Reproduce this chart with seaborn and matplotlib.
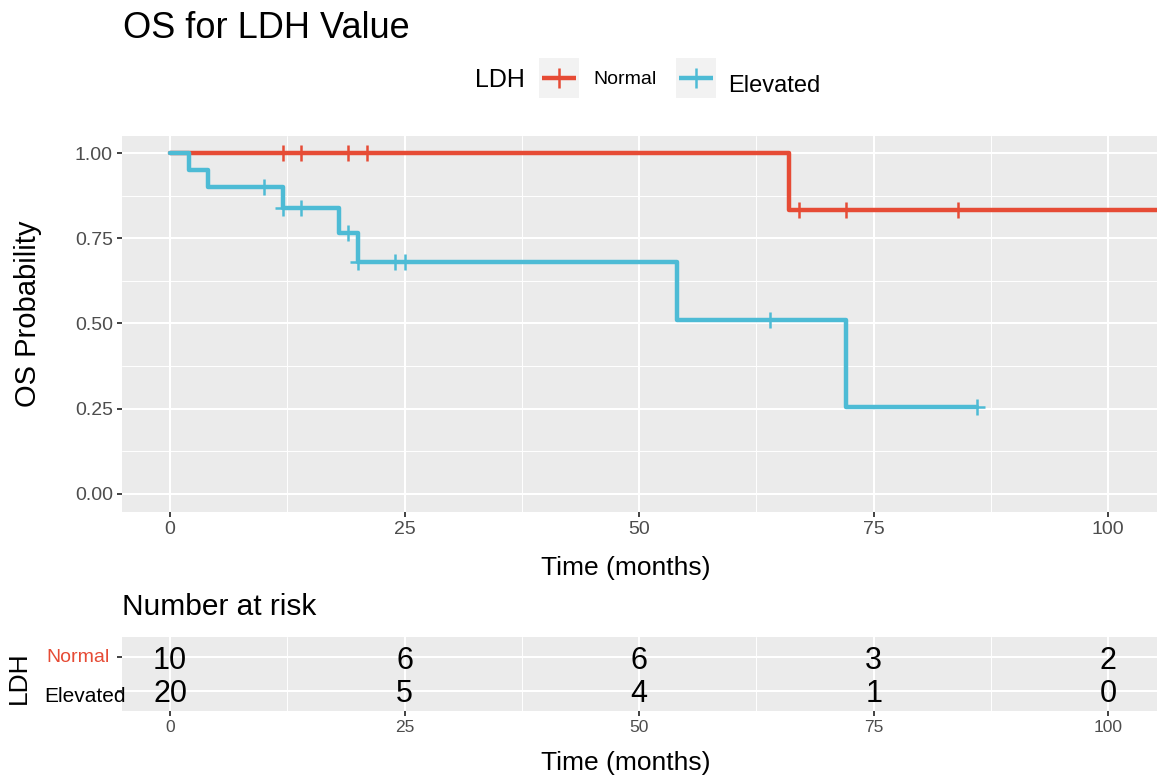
import matplotlib
matplotlib.use("Agg")
import matplotlib.pyplot as plt
import seaborn as sns
import numpy as np
import pandas as pd

# ---------------- data ----------------
groups = ["Normal", "Elevated"]
colors = ["#E64B35", "#4DBBD5"]

normal_time = [0, 66, 108]
normal_surv = [1.0, 0.833, 0.833]
normal_cens_time = [12, 14, 19, 21, 67, 72, 84]
normal_cens_surv = [1.0, 1.0, 1.0, 1.0, 0.833, 0.833, 0.833]

elevated_time = [0, 2, 4, 12, 18, 20, 54, 72, 86]
elevated_surv = [1.0, 0.95, 0.90, 0.84, 0.765, 0.68, 0.51, 0.255, 0.255]
elevated_cens_time = [10, 12, 14, 19, 20, 24, 25, 64, 86]
elevated_cens_surv = [0.90, 0.84, 0.84, 0.765, 0.68, 0.68, 0.68, 0.51, 0.255]

risk_times = [0, 25, 50, 75, 100]
risk_normal = [10, 6, 6, 3, 2]
risk_elevated = [20, 5, 4, 1, 0]

x_ticks = [0, 25, 50, 75, 100]
y_ticks = [0.0, 0.25, 0.50, 0.75, 1.00]
y_tick_labels = ["0.00", "0.25", "0.50", "0.75", "1.00"]

# ---------------- style ----------------
sns.set_theme(style="darkgrid")
plt.rcParams["font.family"] = ["Liberation Sans", "DejaVu Sans"]
plt.rcParams["text.color"] = "black"

W, H = 1161, 780
fig = plt.figure(figsize=(W / 100, H / 100), dpi=100)
fig.patch.set_facecolor("white")


def rect(l, t, r, b):
    return [l / W, 1 - b / H, (r - l) / W, (b - t) / H]


def fx(px):
    return px / W


def fy(py):
    return 1 - py / H


PANEL = "#EBEBEB"
TICKC = "#4D4D4D"


def style_axis(ax):
    ax.set_facecolor(PANEL)
    for s in ax.spines.values():
        s.set_visible(False)
    ax.grid(which="major", color="white", linewidth=1.5)
    ax.grid(which="minor", color="white", linewidth=0.7)
    ax.tick_params(which="major", length=3.5, width=1.3, color="#333333",
                   labelcolor=TICKC, pad=3, bottom=True, left=True)
    ax.tick_params(which="minor", length=0)


# ---------------- main KM panel ----------------
ax = fig.add_axes(rect(122, 136, 1157, 512))
style_axis(ax)

df_n = pd.DataFrame({"time": normal_time, "surv": normal_surv})
df_e = pd.DataFrame({"time": elevated_time, "surv": elevated_surv})
sns.lineplot(data=df_n, x="time", y="surv", ax=ax, color=colors[0], linewidth=3.2,
             drawstyle="steps-post", sort=False, estimator=None, zorder=3)
sns.lineplot(data=df_e, x="time", y="surv", ax=ax, color=colors[1], linewidth=3.2,
             drawstyle="steps-post", sort=False, estimator=None, zorder=4)
sns.scatterplot(x=normal_cens_time, y=normal_cens_surv, ax=ax, marker="+", s=130,
                color=colors[0], linewidth=1.8, zorder=5)
sns.scatterplot(x=elevated_cens_time, y=elevated_cens_surv, ax=ax, marker="+", s=130,
                color=colors[1], linewidth=1.8, zorder=6)

ax.set_xlim(-5.12, 105.2)
ax.set_ylim(-0.053, 1.05)
ax.set_xticks(x_ticks)
ax.set_xticks([12.5, 37.5, 62.5, 87.5], minor=True)
ax.set_yticks(y_ticks)
ax.set_yticklabels(y_tick_labels)
ax.set_yticks([0.125, 0.375, 0.625, 0.875], minor=True)
ax.tick_params(axis="both", labelsize=14)
ax.set_xlabel("")
ax.set_ylabel("")

fig.text(fx(626), fy(568), "Time (months)", fontsize=19, ha="center", va="center")
fig.text(fx(28), fy(314), "OS Probability", fontsize=21, ha="center", va="center",
         rotation=90)
fig.text(fx(123), fy(28), "OS for LDH Value", fontsize=26, ha="left", va="center")

# ---------------- legend ----------------
fig.text(fx(475), fy(80), "LDH", fontsize=18, ha="left", va="center")
for (l, t), col, lab, tx, ty, fs in [((539, 58), colors[0], groups[0], 593, 79, 14),
                                     ((676, 58), colors[1], groups[1], 728, 86, 17)]:
    kax = fig.add_axes(rect(l, t, l + 40, t + 40))
    kax.set_facecolor("#F2F2F2")
    for s in kax.spines.values():
        s.set_visible(False)
    kax.set_xticks([])
    kax.set_yticks([])
    kax.grid(False)
    kax.set_xlim(0, 1)
    kax.set_ylim(0, 1)
    kax.plot([0.08, 0.92], [0.5, 0.5], color=col, linewidth=3.2, solid_capstyle="butt")
    kax.plot([0.5], [0.5], marker="+", markersize=14, markeredgewidth=1.8, color=col)
    fig.text(fx(tx), fy(ty), lab, fontsize=fs, ha="left", va="center")

# ---------------- risk table ----------------
fig.text(fx(122), fy(607), "Number at risk", fontsize=21.5, ha="left", va="center")

rax = fig.add_axes(rect(122, 637, 1157, 711))
style_axis(rax)
rax.set_xlim(-5.12, 105.2)
rax.set_ylim(2.6, 0.4)
rax.set_xticks(x_ticks)
rax.set_xticks([12.5, 37.5, 62.5, 87.5], minor=True)
rax.set_yticks([1, 2])
rax.set_yticklabels(["", ""])
rax.tick_params(axis="x", labelsize=12.5)
rax.grid(which="major", axis="y", color="white", linewidth=1.5)

risk_df = pd.DataFrame({
    "time": risk_times * 2,
    "row": [1] * len(risk_times) + [2] * len(risk_times),
    "n": risk_normal + risk_elevated,
})
for _, r in risk_df.iterrows():
    rax.text(r["time"], r["row"], str(int(r["n"])), fontsize=22, ha="center",
             va="center_baseline", color="black")

fig.text(fx(110), fy(658), "Normal", fontsize=14, ha="right", va="center", color=colors[0])
fig.text(fx(44), fy(696), "Elevated", fontsize=15, ha="left", va="center", color="black")
fig.text(fx(19), fy(678), "LDH", fontsize=19, ha="center", va="center", rotation=90)
fig.text(fx(626), fy(763), "Time (months)", fontsize=19, ha="center", va="center")

fig.savefig("out.png", dpi=100, facecolor="white")
